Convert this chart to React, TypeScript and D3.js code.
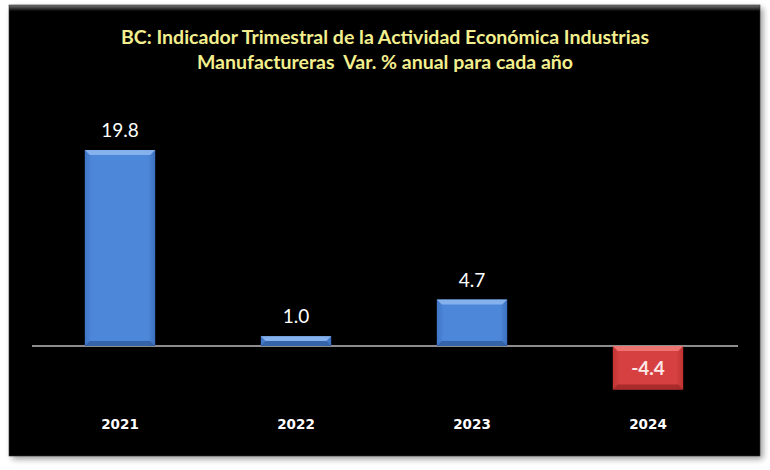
import React from "react";
import * as d3 from "d3";

const years = ["2021", "2022", "2023", "2024"];
const values = [19.8, 1.0, 4.7, -4.4];
const labels = ["19.8", "1.0", "4.7", "-4.4"];
const titleLines = [
  "BC: Indicador Trimestral de la Actividad Económica Industrias",
  "Manufactureras  Var. % anual para cada año",
];

export default function App() {
  const W = 770, H = 470;
  const panel = { x: 9, y: 5, w: 751, h: 451 };
  const x = d3.scaleBand<string>().domain(years).range([32, 736]).paddingInner(0.6).paddingOuter(0.3);
  const y = d3.scaleLinear().domain([-4.4, 19.8]).range([389.6, 150]);
  const y0 = y(0);
  const bw = x.bandwidth();
  const bev = 5;
  return (
    <svg width={W} height={H} style={{ position: "absolute", left: 0, top: 0 }}>
      <defs>
        <filter id="sh" x="-5%" y="-5%" width="110%" height="110%">
          <feGaussianBlur in="SourceAlpha" stdDeviation="3" />
          <feOffset dx="3" dy="3" result="b" />
          <feComponentTransfer><feFuncA type="linear" slope="0.4" /></feComponentTransfer>
          <feMerge><feMergeNode /><feMergeNode in="SourceGraphic" /></feMerge>
        </filter>
        <linearGradient id="topbev" x1="0" y1="0" x2="0" y2="1">
          <stop offset="0" stopColor="#777" />
          <stop offset="1" stopColor="#050505" />
        </linearGradient>
        <linearGradient id="blue" x1="0" y1="0" x2="1" y2="0">
          <stop offset="0" stopColor="#3f74c4" />
          <stop offset="0.1" stopColor="#4d87d9" />
          <stop offset="0.9" stopColor="#4d87d9" />
          <stop offset="1" stopColor="#3b6fbd" />
        </linearGradient>
        <linearGradient id="red" x1="0" y1="0" x2="1" y2="0">
          <stop offset="0" stopColor="#c23434" />
          <stop offset="0.1" stopColor="#d64040" />
          <stop offset="0.9" stopColor="#d64040" />
          <stop offset="1" stopColor="#bf3232" />
        </linearGradient>
      </defs>
      <rect width={W} height={H} fill="#ffffff" />
      <rect x={panel.x} y={panel.y} width={panel.w} height={panel.h} fill="#030303" filter="url(#sh)" />
      <rect x={panel.x} y={panel.y} width={panel.w} height={6} fill="url(#topbev)" />
      <rect x={panel.x} y={panel.y} width={panel.w} height={panel.h} fill="none" stroke="#333" strokeWidth={0.6} />
      {titleLines.map((t, i) => (
        <text key={i} x={385} y={44 + i * 25} textAnchor="middle" fill="#f3ef8e"
          fontFamily="Lato, 'Open Sans', sans-serif" fontWeight="bold" fontSize={19.5}
          style={{ whiteSpace: "pre" }}>{t}</text>
      ))}
      <line x1={32} x2={738} y1={y0} y2={y0} stroke="#bdbdbd" strokeWidth={1.5} />
      {years.map((yr, i) => {
        const v = values[i];
        const bx = x(yr)!;
        const top = v >= 0 ? y(v) : y0;
        const bot = v >= 0 ? y0 : y(v);
        const h = bot - top;
        const neg = v < 0;
        const b = Math.min(bev, h / 2);
        return (
          <g key={yr}>
            <rect x={bx} y={top} width={bw} height={h} fill={neg ? "url(#red)" : "url(#blue)"} />
            <polygon points={`${bx},${top} ${bx + bw},${top} ${bx + bw - b},${top + b} ${bx + b},${top + b}`}
              fill={neg ? "#ef7a76" : "#8cb6ee"} opacity={0.9} />
            <polygon points={`${bx},${bot} ${bx + bw},${bot} ${bx + bw - b},${bot - b} ${bx + b},${bot - b}`}
              fill={neg ? "#9e2626" : "#2f5b9c"} opacity={0.8} />
            <text x={bx + bw / 2} y={neg ? (top + bot) / 2 + 7 : top - 13} textAnchor="middle"
              fill={neg ? "#fde8e8" : "#ffffff"} fontFamily="Lato, 'Open Sans', sans-serif"
              fontWeight={neg ? "bold" : "normal"} fontSize={19}>{labels[i]}</text>
            <text x={bx + bw / 2} y={429} textAnchor="middle" fill="#ffffff"
              fontFamily="'DejaVu Sans', sans-serif" fontWeight="bold" fontSize={13.5}>{yr}</text>
          </g>
        );
      })}
    </svg>
  );
}
